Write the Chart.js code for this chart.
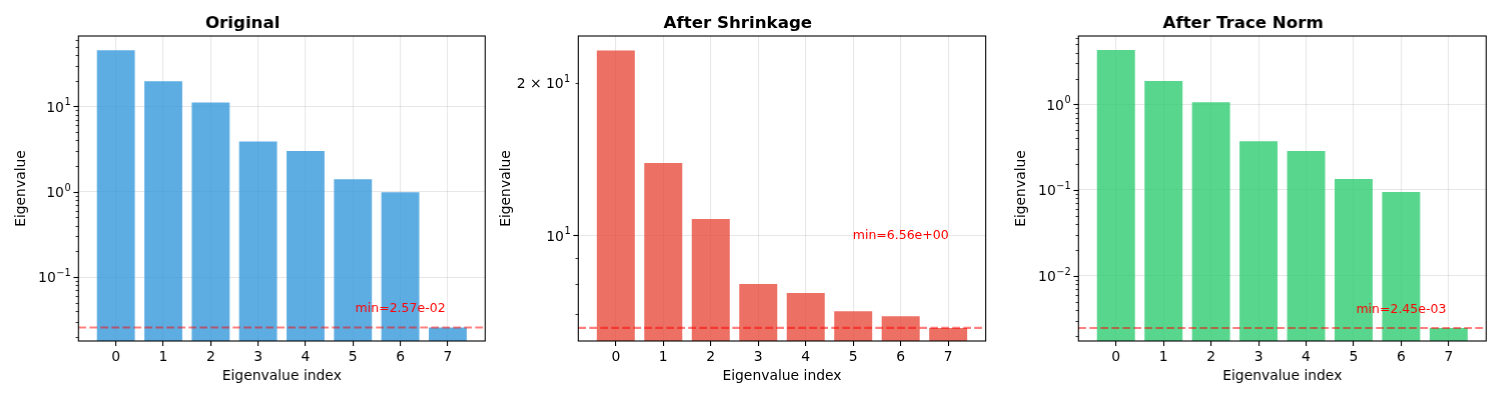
<!DOCTYPE html>
<html>
<head>
<meta charset="utf-8">
<script src="https://cdn.jsdelivr.net/npm/chart.js@4.4.1/dist/chart.umd.min.js"></script>
<style>
  html, body { margin: 0; padding: 0; background: #fff; overflow: hidden; }
  #wrap { position: relative; width: 1500px; height: 400px; overflow: hidden; }
  .panel { position: absolute; top: 0; height: 400px; }
</style>
</head>
<body>
<div id="wrap"></div>
<script>
// ── Data ─────────────────────────────────────────────────────────────────────
const indices       = [0, 1, 2, 3, 4, 5, 6, 7];
const originalVals  = [45.3, 19.7, 11.1, 3.88, 2.99, 1.40, 0.985, 0.0257];
const shrinkVals    = [23.2, 13.9, 10.77, 8.01, 7.69, 7.08, 6.92, 6.56];
const traceVals     = [4.30, 1.87, 1.06, 0.37, 0.285, 0.134, 0.0948, 0.00245];

const originalTicks     = [0.1, 1, 10];
const originalTickText  = ['10⁻¹', '10⁰', '10¹'];
const shrinkTicks       = [10, 20];
const shrinkTickText    = ['10¹', '2 × 10¹'];
const traceTicks        = [0.01, 0.1, 1];
const traceTickText     = ['10⁻²', '10⁻¹', '10⁰'];

const titles = ['Original', 'After Shrinkage', 'After Trace Norm'];

// ── Style ────────────────────────────────────────────────────────────────────
const FONT = 'DejaVu Sans';
const GRID = 'rgba(176,176,176,0.3)';
const TICK_PX = 13.9;
Chart.defaults.font.family = FONT;
Chart.defaults.color = '#000';

const panels = [
  { vals: originalVals, ticks: originalTicks, text: originalTickText, title: titles[0],
    color: 'rgba(52,152,219,0.8)', cx: 0,    L: 78.3,  R: 484.3, ymin: 0.01786, ymax: 66.5,  ytPad: 13.4 },
  { vals: shrinkVals,   ticks: shrinkTicks,   text: shrinkTickText,   title: titles[1],
    color: 'rgba(231,76,60,0.8)',  cx: 490,  L: 578.3, R: 985.7, ymin: 6.18,    ymax: 24.78, ytPad: 7.7 },
  { vals: traceVals,    ticks: traceTicks,    text: traceTickText,    title: titles[2],
    color: 'rgba(46,204,113,0.8)', cx: 1000, L: 1078.3, R: 1485.3, ymin: 0.00173, ymax: 6.27, ytPad: 13.4 },
];

const isDecade = v => Math.abs(Math.log10(v) - Math.round(Math.log10(v))) < 1e-9;

function fmtExp(v) {
  const [m, e] = v.toExponential(2).split('e');
  const n = parseInt(e, 10);
  return m + 'e' + (n < 0 ? '-' : '+') + String(Math.abs(n)).padStart(2, '0');
}

// split '2 × 10⁻¹' into base text and exponent (drawn raised, like mathtext)
const SUP = { '⁰': '0', '¹': '1', '²': '2', '³': '3', '⁴': '4', '⁵': '5', '⁶': '6', '⁷': '7', '⁸': '8', '⁹': '9', '⁻': '\u2212' };
function splitSup(label) {
  let i = label.length;
  while (i > 0 && SUP[label[i - 1]]) i--;
  return [label.slice(0, i), [...label.slice(i)].map(c => SUP[c]).join('')];
}

// spines, y ticks + labels, min line and label (drawn above grid like matplotlib)
const overlayPlugin = {
  id: 'overlay',
  afterDraw(chart, args, opts) {
    const { ctx, chartArea: a } = chart;
    const y = chart.scales.y, x = chart.scales.x;
    ctx.save();

    // min dashed line
    const minVal = Math.min(...opts.vals);
    const yMin = y.getPixelForValue(minVal);
    ctx.beginPath();
    ctx.setLineDash([7.7, 3.3]);
    ctx.lineWidth = 2.08;
    ctx.strokeStyle = 'rgba(255,0,0,0.5)';
    ctx.moveTo(a.left, yMin);
    ctx.lineTo(a.right, yMin);
    ctx.stroke();
    ctx.setLineDash([]);

    // min label
    ctx.fillStyle = 'red';
    ctx.font = '12.5px ' + FONT;
    ctx.textAlign = 'center';
    ctx.textBaseline = 'alphabetic';
    ctx.fillText('min=' + fmtExp(minVal), x.getPixelForValue(indices.length - 2), y.getPixelForValue(minVal * 1.5));

    // y tick marks
    ctx.strokeStyle = '#000';
    y.ticks.forEach(t => {
      const p = Math.round(y.getPixelForValue(t.value)) + 0.5;
      const major = isDecade(t.value);
      ctx.lineWidth = major ? 1.1 : 0.8;
      ctx.beginPath();
      ctx.moveTo(a.left - (major ? 4.9 : 2.8), p);
      ctx.lineTo(a.left, p);
      ctx.stroke();
    });

    // y tick labels with raised exponent
    ctx.fillStyle = '#000';
    ctx.textBaseline = 'alphabetic';
    ctx.textAlign = 'left';
    opts.ticks.forEach((v, i) => {
      const [base, sup] = splitSup(opts.text[i]);
      const p = y.getPixelForValue(v);
      ctx.font = TICK_PX + 'px ' + FONT;
      const wb = ctx.measureText(base).width;
      ctx.font = (TICK_PX * 0.7) + 'px ' + FONT;
      const ws = ctx.measureText(sup).width;
      const right = a.left - (isDecade(v) ? 8.2 : 8.5);
      const x0 = right - wb - ws;
      const baseY = p + 5.3;
      ctx.font = TICK_PX + 'px ' + FONT;
      ctx.fillText(base, x0, baseY);
      ctx.font = (TICK_PX * 0.7) + 'px ' + FONT;
      ctx.fillText(sup, x0 + wb + 0.5, baseY - 6.2);
    });

    // spines
    ctx.lineWidth = 1.1;
    ctx.strokeRect(a.left, a.top, a.right - a.left, a.bottom - a.top);
    ctx.restore();
  }
};

const wrap = document.getElementById('wrap');

panels.forEach(pn => {
  const axisW = pn.L - pn.cx;
  const width = 2 * ((pn.L + pn.R) / 2 - pn.cx);
  const div = document.createElement('div');
  div.className = 'panel';
  div.style.left = pn.cx + 'px';
  div.style.width = width + 'px';
  const canvas = document.createElement('canvas');
  div.appendChild(canvas);
  wrap.appendChild(div);

  new Chart(canvas, {
    type: 'bar',
    data: {
      datasets: [{
        data: indices.map((v, i) => ({ x: v, y: pn.vals[i] })),
        backgroundColor: pn.color,
        borderWidth: 0,
        inflateAmount: 0,
        categoryPercentage: 1.0,
        barPercentage: 0.8,
      }]
    },
    options: {
      responsive: true,
      maintainAspectRatio: false,
      animation: false,
      devicePixelRatio: 1,
      layout: { padding: { left: 0, right: axisW, top: 0, bottom: 15 } },
      plugins: {
        legend: { display: false },
        tooltip: { enabled: false },
        title: {
          display: true,
          text: pn.title,
          font: { size: 16.67, weight: 'bold' },
          color: '#000',
          padding: { top: 14, bottom: 2 },
        },
        overlay: { vals: pn.vals, ticks: pn.ticks, text: pn.text },
      },
      scales: {
        x: {
          type: 'linear',
          min: -0.79,
          max: 7.79,
          offset: false,
          z: 1,
          afterBuildTicks: s => { s.ticks = indices.map(v => ({ value: v })); },
          afterFit: s => { s.height = 400 - 341 - 15; },
          ticks: { font: { size: TICK_PX }, padding: 3.5, autoSkip: false, maxRotation: 0,
                   callback: v => String(v) },
          grid: { offset: false, color: GRID, lineWidth: 1.1, drawTicks: true, tickLength: 4.9,
                  tickColor: '#000', tickWidth: 1.1 },
          border: { display: false },
          title: { display: true, text: 'Eigenvalue index', font: { size: TICK_PX }, padding: 0 },
        },
        y: {
          type: 'logarithmic',
          min: pn.ymin,
          max: pn.ymax,
          z: 1,
          afterBuildTicks: s => {
            const out = [];
            const lo = Math.floor(Math.log10(pn.ymin)), hi = Math.ceil(Math.log10(pn.ymax));
            for (let e = lo; e <= hi; e++) {
              for (let k = 1; k <= 9; k++) {
                const v = k * Math.pow(10, e);
                if (v >= pn.ymin && v <= pn.ymax) out.push({ value: v, major: k === 1 });
              }
            }
            s.ticks = out;
          },
          afterFit: s => { s.width = axisW; },
          ticks: { font: { size: TICK_PX }, padding: 7, autoSkip: false, callback: () => '' },
          grid: {
            drawTicks: false,
            lineWidth: 1.1,
            color: c => (c.tick && isDecade(c.tick.value)) ? GRID : 'rgba(0,0,0,0)',
          },
          border: { display: false },
          title: { display: true, text: 'Eigenvalue', font: { size: TICK_PX }, padding: { top: pn.ytPad, bottom: 0 } },
        },
      },
    },
    plugins: [overlayPlugin],
  });
});
</script>
</body>
</html>
